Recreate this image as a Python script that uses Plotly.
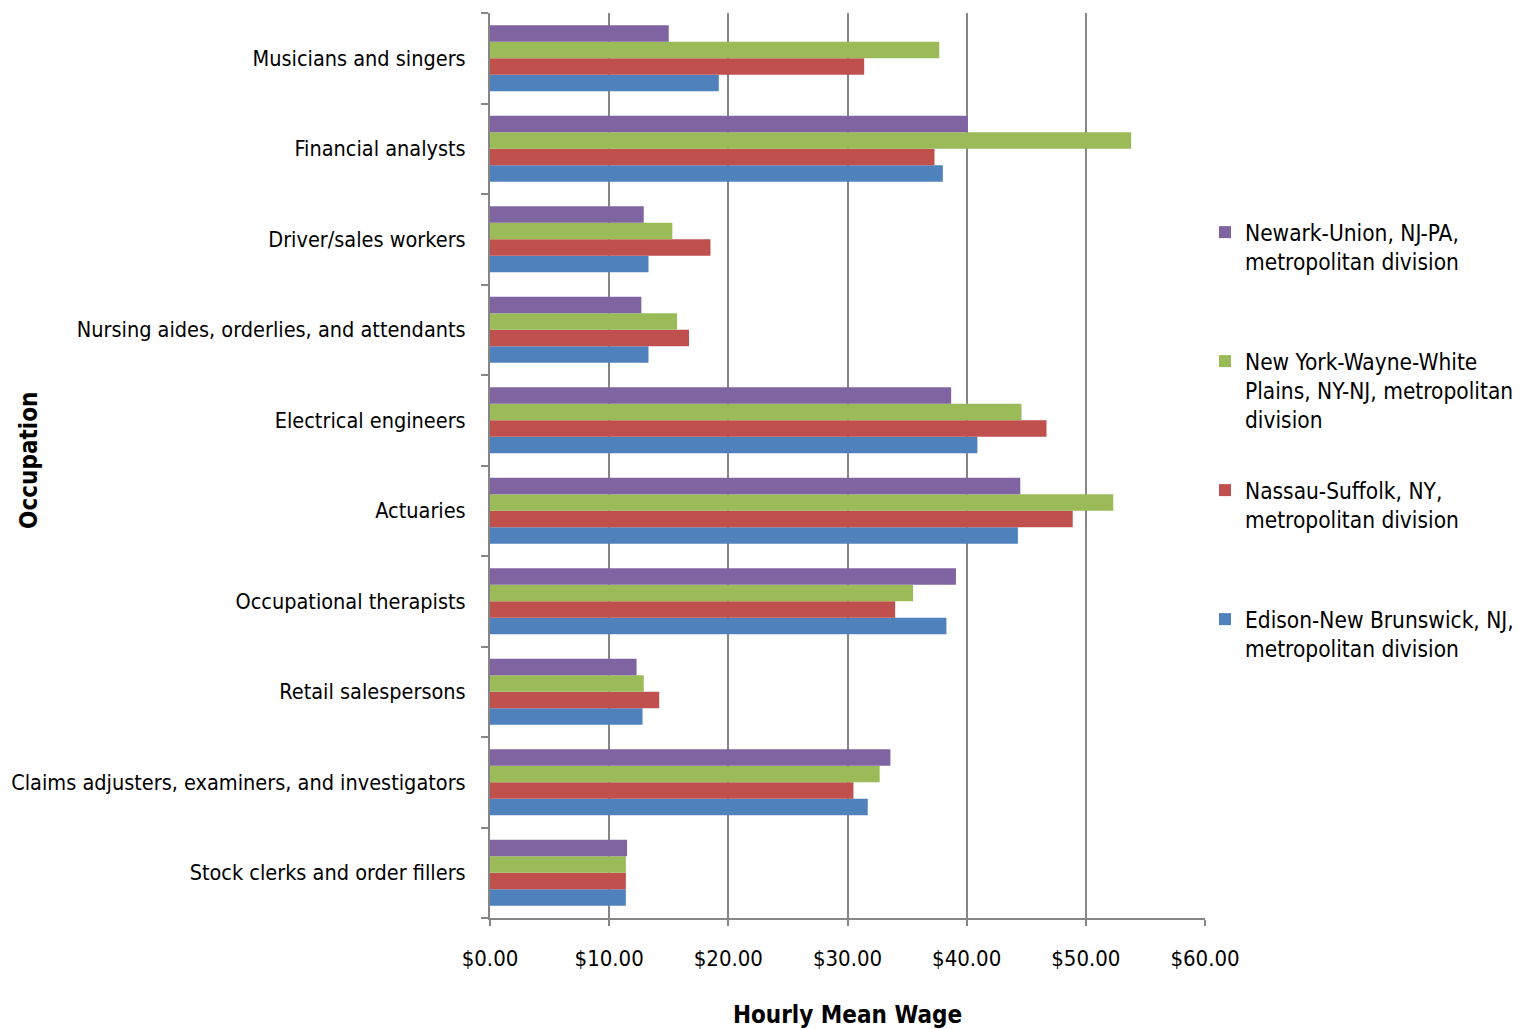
import plotly.graph_objects as go

# Categories listed bottom-to-top
occupations = [
    "Stock clerks and order fillers",
    "Claims adjusters, examiners, and investigators",
    "Retail salespersons",
    "Occupational therapists",
    "Actuaries",
    "Electrical engineers",
    "Nursing aides, orderlies, and attendants",
    "Driver/sales workers",
    "Financial analysts",
    "Musicians and singers",
]

edison = [11.4, 31.7, 12.8, 38.3, 44.3, 40.9, 13.3, 13.3, 38.0, 19.2]
nassau = [11.4, 30.5, 14.2, 34.0, 48.9, 46.7, 16.7, 18.5, 37.3, 31.4]
newyork = [11.4, 32.7, 12.9, 35.5, 52.3, 44.6, 15.7, 15.3, 53.8, 37.7]
newark = [11.5, 33.6, 12.3, 39.1, 44.5, 38.7, 12.7, 12.9, 40.1, 15.0]

series_names = [
    "Edison-New Brunswick, NJ,<br>metropolitan division",
    "Nassau-Suffolk, NY,<br>metropolitan division",
    "New York-Wayne-White<br>Plains, NY-NJ, metropolitan<br>division",
    "Newark-Union, NJ-PA,<br>metropolitan division",
]
series_values = [edison, nassau, newyork, newark]
colors = ["#4F81BD", "#C0504D", "#9BBB59", "#8064A2"]
legend_ids = ["legend4", "legend3", "legend2", "legend"]
legend_tops = [598, 469, 340, 211]  # pixel tops of each legend entry

FONT = "Liberation Sans Narrow, Arial Narrow, DejaVu Sans Condensed, sans-serif"
W, H = 1528, 1029

fig = go.Figure()
for name, vals, col, lid in zip(series_names, series_values, colors, legend_ids):
    fig.add_trace(go.Bar(
        y=occupations, x=vals, name=name, orientation="h",
        marker=dict(color=col, line=dict(width=0)),
        legend=lid,
    ))

legend_common = dict(
    xref="container", yref="container", x=1205 / W, xanchor="left",
    yanchor="top", valign="top",
    font=dict(family=FONT, size=22.5, color="#000000"),
    bgcolor="rgba(0,0,0,0)",
)
legend_layout = {}
for lid, top in zip(legend_ids, legend_tops):
    legend_layout[lid] = dict(legend_common, y=1 - top / H)

fig.update_layout(
    width=W, height=H,
    margin=dict(l=490, r=323, t=13, b=111),
    paper_bgcolor="white", plot_bgcolor="white",
    barmode="group", bargap=0.27, bargroupgap=0,
    font=dict(family=FONT, size=22, color="#000000"),
    showlegend=True,
    xaxis=dict(
        range=[0, 60], dtick=10, tick0=0, tickprefix="$", tickformat=".2f",
        showgrid=True, gridcolor="#868686", gridwidth=2,
        showline=True, linecolor="#868686", linewidth=2,
        ticks="outside", ticklen=6, tickcolor="#868686", tickwidth=2,
        ticklabelstandoff=14, zeroline=False, automargin=False,
        title=dict(text="<b>Hourly Mean Wage</b>", standoff=38,
                   font=dict(family=FONT, size=24)),
        fixedrange=True,
    ),
    yaxis=dict(
        categoryorder="array", categoryarray=occupations,
        showline=True, linecolor="#868686", linewidth=2,
        ticks="outside", ticklen=7, tickcolor="#868686", tickwidth=2,
        tickson="boundaries", ticklabelstandoff=18, automargin=False,
        tickfont=dict(family=FONT, size=21.5),
        showgrid=False, zeroline=False,
    ),
    annotations=[dict(
        text="<b>Occupation</b>", textangle=-90,
        xref="paper", yref="paper", x=-0.645, y=0.506,
        xanchor="center", yanchor="middle",
        showarrow=False, font=dict(family=FONT, size=24),
    )],
    **legend_layout,
)

fig.write_html(
    "out.html",
    config={"displayModeBar": False},
    post_script="document.body.style.margin='0px';",
)
